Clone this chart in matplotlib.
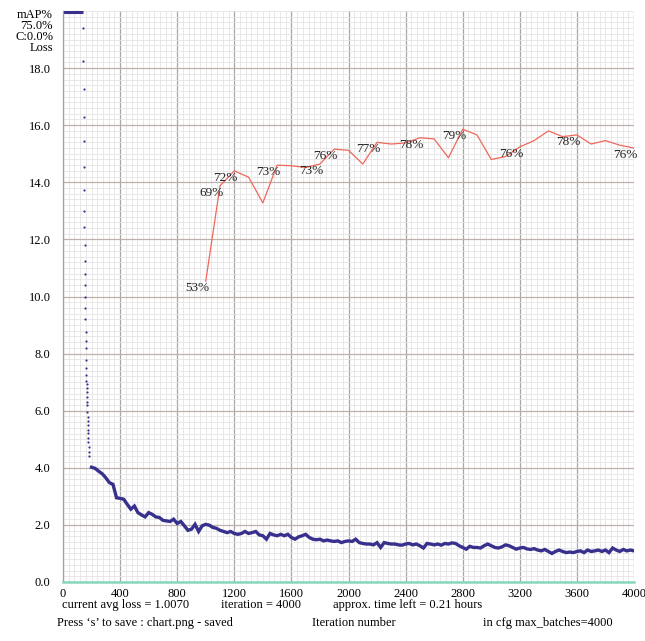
import numpy as np
import matplotlib
matplotlib.use("Agg")
import matplotlib.pyplot as plt
from matplotlib.ticker import MultipleLocator, FixedLocator, FormatStrFormatter

plt.rcParams["font.family"] = ["Liberation Serif", "DejaVu Serif"]

# --- data ---
MAX_BATCHES = 4000
LOSS_TOP = 20.0
clipped_until = 141  # loss above the top of the chart for these iterations

# steep drop right after the clipped part, one dot per iteration
drop_iters = np.arange(142, 182)
drop_loss = [19.39, 18.26, 17.26, 16.29, 15.44, 14.55, 13.72, 12.99, 12.42, 11.80,
             11.24, 10.78, 10.39, 9.97, 9.59, 9.21, 8.77, 8.45, 8.19, 7.78,
             7.49, 7.25, 7.05, 6.94, 6.81, 6.64, 6.49, 6.32, 6.20, 5.96,
             5.79, 5.65, 5.50, 5.32, 5.21, 5.03, 4.91, 4.74, 4.55, 4.41]

# avg loss, sampled every 25 iterations from 200 to 4000
loss_iters = np.arange(200, 4001, 25)
loss_vals = [
    4.02, 3.98, 3.88, 3.79, 3.65, 3.48, 3.42, 2.95,   # 200-375
    2.93, 2.90, 2.72, 2.55, 2.66, 2.43, 2.35, 2.28,   # 400-575
    2.43, 2.37, 2.28, 2.26, 2.16, 2.14, 2.12, 2.20,   # 600-775
    2.05, 2.12, 1.97, 1.81, 1.85, 2.02, 1.77, 1.97,   # 800-975
    2.02, 1.99, 1.91, 1.88, 1.81, 1.77, 1.73, 1.77,   # 1000-1175
    1.70, 1.67, 1.70, 1.77, 1.70, 1.73, 1.77, 1.65,   # 1200-1375
    1.62, 1.50, 1.70, 1.65, 1.62, 1.67, 1.62, 1.67,   # 1400-1575
    1.56, 1.50, 1.58, 1.62, 1.67, 1.56, 1.50, 1.48,   # 1600-1775
    1.50, 1.44, 1.47, 1.44, 1.42, 1.44, 1.38, 1.42,   # 1800-1975
    1.44, 1.42, 1.50, 1.38, 1.35, 1.33, 1.33, 1.30,   # 2000-2175
    1.38, 1.21, 1.38, 1.35, 1.33, 1.33, 1.30, 1.29,   # 2200-2375
    1.33, 1.35, 1.30, 1.33, 1.27, 1.19, 1.35, 1.33,   # 2400-2575
    1.30, 1.33, 1.29, 1.35, 1.33, 1.37, 1.35, 1.27,   # 2600-2775
    1.21, 1.15, 1.25, 1.21, 1.21, 1.19, 1.27, 1.33,   # 2800-2975
    1.27, 1.21, 1.19, 1.23, 1.30, 1.27, 1.21, 1.15,   # 3000-3175
    1.19, 1.21, 1.16, 1.14, 1.17, 1.12, 1.09, 1.14,   # 3200-3375
    1.07, 1.00, 1.07, 1.12, 1.07, 1.03, 1.05, 1.03,   # 3400-3575
    1.07, 1.09, 1.03, 1.12, 1.07, 1.09, 1.12, 1.07,   # 3600-3775
    1.12, 1.03, 1.19, 1.12, 1.07, 1.14, 1.09, 1.12,   # 3800-3975
    1.09,                                             # 4000
]

# mAP (%) evaluated every 100 iterations
map_iters = np.arange(1000, 4001, 100)
map_vals = [52.7, 69.4, 72.0, 70.9, 66.4, 73.0, 72.9, 72.6, 73.2, 75.8, 75.6,
            73.2, 77.0, 76.7, 76.9, 77.8, 77.6, 74.3, 79.3, 78.3, 74.0, 74.5,
            76.2, 77.3, 79.0, 78.0, 78.3, 76.7, 77.3, 76.5, 76.0]
map_label_iters = [1000, 1100, 1200, 1500, 1800, 1900, 2200, 2500, 2800, 3200, 3600, 4000]

loss_ticks = [0, 2, 4, 6, 8, 10, 12, 14, 16, 18]
header_lines = ["mAP%", "75.0%", "C:0.0%", "Loss"]
footer_row1 = ["current avg loss = 1.0070", "iteration = 4000", "approx. time left = 0.21 hours"]
footer_row2 = ["Press \u2018s\u2019 to save : chart.png - saved", "Iteration number",
               "in cfg max_batches=4000"]

# --- figure ---
W, H = 645, 641
fig = plt.figure(figsize=(W / 100, H / 100), dpi=100)
ax = fig.add_axes([63 / W, 1 - 582 / H, (634 - 63) / W, (582 - 11) / H])

ax.set_xlim(0, MAX_BATCHES)
ax.set_ylim(0, LOSS_TOP)

ax.xaxis.set_major_locator(MultipleLocator(400))
ax.xaxis.set_minor_locator(MultipleLocator(40))
ax.yaxis.set_major_locator(FixedLocator(loss_ticks))
ax.yaxis.set_minor_locator(MultipleLocator(0.2))
ax.yaxis.set_major_formatter(FormatStrFormatter("%.1f"))

ax.grid(which="minor", color="#e4e4e4", linewidth=0.6)
ax.grid(which="major", axis="x", color="#a9a6a6", linewidth=0.9)
ax.grid(which="major", axis="y", color="#bdb0ad", linewidth=0.9)
ax.set_axisbelow(True)

ax.tick_params(which="both", length=0)
ax.tick_params(axis="y", pad=9, labelsize=9)
ax.tick_params(axis="x", pad=4, labelsize=9)

for side in ["top", "right"]:
    ax.spines[side].set_visible(False)
ax.spines["left"].set_color("#a0a0a0")
ax.spines["left"].set_linewidth(0.9)
ax.spines["bottom"].set_color("#86d6b9")
ax.spines["bottom"].set_linewidth(1.8)

loss_color = "#37308c"
ax.hlines(LOSS_TOP - 0.05, 0, clipped_until, color=loss_color, linewidth=2.2, clip_on=False)
ax.scatter(drop_iters, drop_loss, s=2.5, color=loss_color, linewidths=0)
ax.plot(loss_iters, loss_vals, color=loss_color, linewidth=2.4, solid_joinstyle="miter")

# mAP on the same axis: 100% == top of the chart
map_y = np.array(map_vals) / 100 * LOSS_TOP
ax.plot(map_iters, map_y, color="#f0675a", linewidth=0.9)
for it, v in zip(map_iters, map_vals):
    if it in map_label_iters:
        ax.annotate(f"{round(v)}%", (it, v / 100 * LOSS_TOP), xytext=(2.5, -5),
                    textcoords="offset points", ha="right", va="center",
                    fontsize=9.5, color="#222222")

for i, txt in enumerate(header_lines):
    fig.text(53 / W, 1 - (15 + i * 11) / H, txt, ha="right", va="center", fontsize=9)

for x, txt in zip([62, 221, 333], footer_row1):
    fig.text(x / W, 1 - 605 / H, txt, ha="left", va="center", fontsize=9)
for x, txt in zip([57, 312, 483], footer_row2):
    fig.text(x / W, 1 - 623 / H, txt, ha="left", va="center", fontsize=9)

fig.savefig("out.png", dpi=100)
